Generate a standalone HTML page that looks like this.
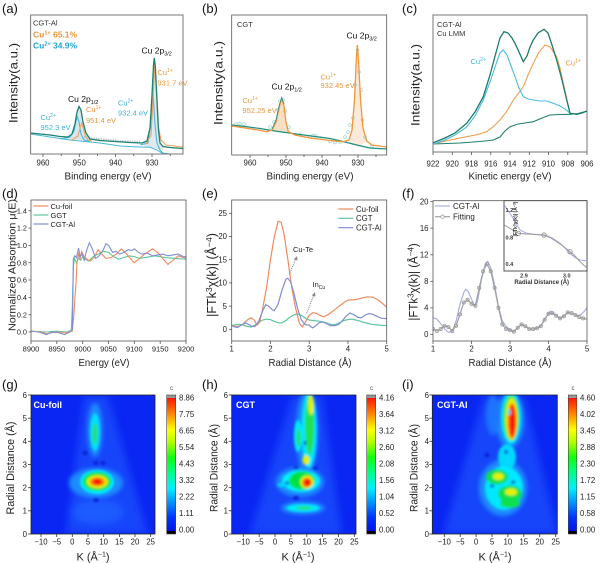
<!DOCTYPE html>
<html><head><meta charset="utf-8"><style>
html,body{margin:0;padding:0;background:#fff;}
svg{display:block;}
text{font-family:"Liberation Sans",Arial,sans-serif;}
</style></head><body>
<svg width="600" height="563" viewBox="0 0 600 563" xmlns="http://www.w3.org/2000/svg">
<defs>
<clipPath id="ca"><rect x="30.7" y="15" width="152.3" height="139"/></clipPath>
<clipPath id="cb"><rect x="231.7" y="15" width="155" height="140"/></clipPath>
<clipPath id="cc"><rect x="433" y="15" width="154" height="137"/></clipPath>
<clipPath id="cd"><rect x="31" y="200" width="155" height="141"/></clipPath>
<clipPath id="ce"><rect x="231.7" y="200" width="155" height="141"/></clipPath>
<clipPath id="cf"><rect x="433" y="200.7" width="154" height="140.3"/></clipPath>
<clipPath id="ci2"><rect x="504" y="200.7" width="83" height="70.3"/></clipPath>
<clipPath id="cg"><rect x="31" y="395" width="124" height="139"/></clipPath>
<clipPath id="ch"><rect x="231.7" y="395" width="124.3" height="139"/></clipPath>
<clipPath id="cii"><rect x="432.3" y="395" width="125" height="139"/></clipPath>
<filter id="b1" x="-50%" y="-50%" width="200%" height="200%"><feGaussianBlur stdDeviation="1.3"/></filter>
<filter id="b2" x="-50%" y="-50%" width="200%" height="200%"><feGaussianBlur stdDeviation="2.2"/></filter>
<filter id="b3" x="-50%" y="-50%" width="200%" height="200%"><feGaussianBlur stdDeviation="4"/></filter>
<linearGradient id="cmap" x1="0" y1="1" x2="0" y2="0">
<stop offset="0" stop-color="#0010e0"/><stop offset="0.12" stop-color="#0032ff"/><stop offset="0.25" stop-color="#00a8ff"/>
<stop offset="0.33" stop-color="#00f0ff"/><stop offset="0.45" stop-color="#00ff80"/><stop offset="0.55" stop-color="#10ff10"/>
<stop offset="0.66" stop-color="#b0ff00"/><stop offset="0.75" stop-color="#ffff00"/><stop offset="0.87" stop-color="#ff8000"/>
<stop offset="1" stop-color="#ff0000"/></linearGradient>
</defs>

<!-- ============ (a) ============ -->
<text x="2" y="13" font-size="13" fill="#111">(a)</text>
<g clip-path="url(#ca)">
<polygon points="66,137.5 68,137 72,134 75,124 77,112 79,106.5 81,110 83,122 86,133 90,139 90,141 66,139" fill="#c9dbe6" opacity="0.7"/>
<polygon points="144,143 147,141 150,128 152,95 153.5,65 154.3,58 155.3,66 157,100 158.5,130 160,143 163,146.5 163,150 144,146" fill="#cfdfe8" opacity="0.7"/>
<polyline points="84,137 92,138.5 100,139 110,140 120,141 130,141.5 140,142" fill="none" stroke="#c4c8cc" stroke-width="2.2" stroke-dasharray="1.4 1"/>
<polyline points="30.7,134 50,137 70,140 100,143 120,146 140,147 150,147.3 156.7,150 162,153 170,154" fill="none" stroke="#4ab8dc" stroke-width="1"/>
<polyline points="60,139 70,137 74,131 76,121 77.3,116.7 79,122 81,134 84,140 90,141.5" fill="none" stroke="#4ab8dc" stroke-width="1.1"/>
<polyline points="140,145 148,143 150.5,125 152,100 152.7,93.3 153.5,100 155,125 157,143 160,150 163,153" fill="none" stroke="#4ab8dc" stroke-width="1.1"/>
<polyline points="72,140 78,136 80,128 81.7,123.3 83,127 85,135 88,140 92,141" fill="none" stroke="#eea35a" stroke-width="1.1"/>
<polyline points="146,144 151,135 153,100 154.8,62 156.3,90 158,125 161,140 166,145 183,147" fill="none" stroke="#eea35a" stroke-width="1.1"/>
<polyline points="30.7,133 40,134 50,135 60,136.5 68,137 72,134 75,124 77,112 79,106.5 81,110 83,122 86,133 90,139 100,140.5 115,141.5 130,142.5 142,143 147,141 150,128 152,95 153.5,65 154.3,58 155.3,66 157,100 158.5,130 160,143 163,146.5 170,147.5 183,148.5" fill="none" stroke="#1d8070" stroke-width="1.3"/>
</g>
<rect x="30.7" y="15" width="152.3" height="139" fill="none" stroke="#555" stroke-width="0.8"/>
<g stroke="#555" stroke-width="0.8">
<line x1="43" y1="154" x2="43" y2="157"/><line x1="79.3" y1="154" x2="79.3" y2="157"/><line x1="115.6" y1="154" x2="115.6" y2="157"/><line x1="152" y1="154" x2="152" y2="157"/>
<line x1="61.2" y1="154" x2="61.2" y2="156"/><line x1="97.5" y1="154" x2="97.5" y2="156"/><line x1="133.8" y1="154" x2="133.8" y2="156"/><line x1="170.2" y1="154" x2="170.2" y2="156"/>
</g>
<g font-size="7.8" fill="#222" text-anchor="middle">
<text x="43" y="165.5">960</text><text x="79.3" y="165.5">950</text><text x="115.6" y="165.5">940</text><text x="152" y="165.5">930</text>
</g>
<text x="108" y="179.5" font-size="10.5" fill="#222" text-anchor="middle" textLength="87" lengthAdjust="spacingAndGlyphs">Binding energy (eV)</text>
<text transform="translate(17.3,83) rotate(-90)" font-size="12" fill="#222" text-anchor="middle" textLength="80" lengthAdjust="spacingAndGlyphs">Intensity(a.u.)</text>
<text x="33" y="25.5" font-size="7.5" fill="#333">CGT-Al</text>
<text x="33" y="37.5" font-size="8.5" font-weight="bold" fill="#e8963c">Cu<tspan font-size="5.5" dy="-3">1+</tspan><tspan dy="3"> 65.1%</tspan></text>
<text x="33" y="48.5" font-size="8.5" font-weight="bold" fill="#23a6d0">Cu<tspan font-size="5.5" dy="-3">2+</tspan><tspan dy="3"> 34.9%</tspan></text>
<text x="141.5" y="53.5" font-size="8.5" fill="#111">Cu 2p<tspan font-size="5.5" dy="2">3/2</tspan></text>
<text x="157.5" y="75" font-size="7.5" fill="#e8963c">Cu<tspan font-size="5" dy="-3">1+</tspan></text>
<text x="157.5" y="85.5" font-size="7.5" fill="#e8963c">931.7 eV</text>
<text x="68" y="102" font-size="8.5" fill="#111">Cu 2p<tspan font-size="5.5" dy="2">1/2</tspan></text>
<text x="86" y="112" font-size="7.5" fill="#e8963c">Cu<tspan font-size="5" dy="-3">1+</tspan></text>
<text x="86" y="123" font-size="7.5" fill="#e8963c">951.4 eV</text>
<text x="40.5" y="120" font-size="7.5" fill="#3ab2da">Cu<tspan font-size="5" dy="-3">2+</tspan></text>
<text x="40.5" y="130" font-size="7.5" fill="#3ab2da">952.3 eV</text>
<text x="118" y="105.5" font-size="7.5" fill="#3ab2da">Cu<tspan font-size="5" dy="-3">2+</tspan></text>
<text x="118" y="115.5" font-size="7.5" fill="#3ab2da">932.4 eV</text>

<!-- ============ (b) ============ -->
<text x="202" y="13" font-size="13" fill="#111">(b)</text>
<g clip-path="url(#cb)">
<polygon points="266.7,131.7 272,130 276,122 279,108 281.7,98.3 284,106 286,122 288.3,131.7 290,133 270,131" fill="#f5c9a0" opacity="0.6"/>
<polygon points="349,140 352,130 354.5,100 356.3,60 357.3,45 358.5,60 360.5,100 363,128 366.7,141 360,146 352,145" fill="#f8dcc0" opacity="0.6"/>
<g fill="none" stroke="#9fd3cf" stroke-width="0.7">
<circle cx="236" cy="124" r="1.4"/><circle cx="240" cy="123.5" r="1.4"/><circle cx="244" cy="124" r="1.4"/><circle cx="270" cy="127" r="1.4"/><circle cx="274" cy="122" r="1.4"/><circle cx="278" cy="110" r="1.4"/><circle cx="280" cy="101" r="1.4"/><circle cx="283" cy="100" r="1.4"/><circle cx="285" cy="111" r="1.4"/><circle cx="289" cy="127" r="1.4"/><circle cx="300" cy="135" r="1.4"/><circle cx="310" cy="137" r="1.4"/><circle cx="313" cy="135.5" r="1.4"/><circle cx="316" cy="136" r="1.4"/><circle cx="320" cy="138" r="1.4"/><circle cx="330" cy="141.5" r="1.4"/><circle cx="335" cy="142.5" r="1.4"/><circle cx="340" cy="142" r="1.4"/><circle cx="345" cy="137" r="1.4"/><circle cx="348" cy="132" r="1.4"/><circle cx="350" cy="125" r="1.4"/><circle cx="353" cy="118" r="1.4"/><circle cx="355" cy="85" r="1.4"/><circle cx="357.5" cy="50" r="1.4"/><circle cx="359" cy="72" r="1.4"/><circle cx="361" cy="90" r="1.4"/><circle cx="362.5" cy="120" r="1.4"/><circle cx="365" cy="137" r="1.4"/><circle cx="372" cy="146" r="1.4"/>
</g>
<polyline points="231.7,125 245,126.5 260,128.5 275,131 300,134.5 330,138.5 345,142 356.7,145 370,148 386.7,149" fill="none" stroke="#1d9080" stroke-width="1.2"/>
<polyline points="231.7,126 245,128 258,130 266.7,131.7 272,130 276,122 279,108 281.7,98.3 284,106 286,122 288.3,131.7 295,135 310,138 330,140.5 343.3,141.7 349,140 352,130 354.5,100 356.3,60 357.3,45 358.5,60 360.5,100 363,128 366.7,141 372,145 386.7,147" fill="none" stroke="#f0953a" stroke-width="1.3"/>
<polyline points="272,129 276,120 279,106 281.7,97.5 284,104" fill="none" stroke="#1d9080" stroke-width="0.8"/>
</g>
<rect x="231.7" y="15" width="155" height="140" fill="none" stroke="#555" stroke-width="0.8"/>
<g stroke="#555" stroke-width="0.8">
<line x1="250" y1="155" x2="250" y2="158"/><line x1="286" y1="155" x2="286" y2="158"/><line x1="322" y1="155" x2="322" y2="158"/><line x1="358" y1="155" x2="358" y2="158"/>
<line x1="268" y1="155" x2="268" y2="157"/><line x1="304" y1="155" x2="304" y2="157"/><line x1="340" y1="155" x2="340" y2="157"/><line x1="376" y1="155" x2="376" y2="157"/>
</g>
<g font-size="7.8" fill="#222" text-anchor="middle">
<text x="250" y="165.5">960</text><text x="286" y="165.5">950</text><text x="322" y="165.5">940</text><text x="358" y="165.5">930</text>
</g>
<text x="310" y="179.5" font-size="10.5" fill="#222" text-anchor="middle" textLength="87" lengthAdjust="spacingAndGlyphs">Binding energy (eV)</text>
<text transform="translate(222.6,83) rotate(-90)" font-size="12" fill="#222" text-anchor="middle" textLength="84" lengthAdjust="spacingAndGlyphs">Intensity(a.u.)</text>
<text x="237" y="27" font-size="7.5" fill="#333">CGT</text>
<text x="346.5" y="38.5" font-size="8.5" fill="#111">Cu 2p<tspan font-size="5.5" dy="2">3/2</tspan></text>
<text x="320.5" y="79.5" font-size="7.5" fill="#e8963c">Cu<tspan font-size="5" dy="-3">1+</tspan></text>
<text x="320.5" y="88" font-size="7.5" fill="#e8963c">932.45 eV</text>
<text x="271.5" y="89.5" font-size="8.5" fill="#111">Cu 2p<tspan font-size="5.5" dy="2">1/2</tspan></text>
<text x="242.5" y="103" font-size="7.5" fill="#e8963c">Cu<tspan font-size="5" dy="-3">1+</tspan></text>
<text x="242.5" y="113" font-size="7.5" fill="#e8963c">952.25 eV</text>

<!-- ============ (c) ============ -->
<text x="402" y="13" font-size="13" fill="#111">(c)</text>
<g clip-path="url(#cc)" fill="none">
<polyline points="433.3,144 460,143 480,141.5 493.3,140 500,137 505,131 510,126.7 518,124 525,123 533.3,121.7 542,118 550,115 560,114.5 570,114.3 578,113.5 587.3,111" stroke="#1f8070" stroke-width="1.1"/>
<polyline points="433.3,144 450,140 466.7,136.7 478,134.5 486.7,131.7 493,127 500,120 507,111 513.3,100 518,94 523.3,86.7 528,75 533.3,63.3 539,52 545,45 550,47 556.7,56.7 560,68 563.3,83.3 567,100 570,113.3" stroke="#eea050" stroke-width="1.1"/>
<polyline points="433.3,144 445,140 455,135 466.7,127 475,116 483.3,100 490,82 496.7,62 500,53 503.3,50 507,55 511,66 515,76.7 519,88 523.3,96.7 528,99 533.3,100 540,101 547,101 553.3,103.3 560,106 565,109 570,113.3" stroke="#4bbde0" stroke-width="1.1"/>
<polyline points="433.3,142.7 445,138 455,133 466.7,123.3 475,112 483.3,96.7 490,75 496.7,50 500,38 504,31.7 508,33 512,38 515,43.3 519,52 523.3,61.7 527,56 530,47 533.3,40 538,33 544,29.3 548,33 552,45 556.7,60 562,80 566,97 570,113.3 576.7,114.3 582,113 587.3,111" stroke="#1d7a6c" stroke-width="1.3"/>
</g>
<rect x="433" y="15" width="154" height="137" fill="none" stroke="#555" stroke-width="0.8"/>
<g stroke="#555" stroke-width="0.8">
<line x1="433" y1="152" x2="433" y2="155"/><line x1="452.3" y1="152" x2="452.3" y2="155"/><line x1="471.5" y1="152" x2="471.5" y2="155"/><line x1="490.8" y1="152" x2="490.8" y2="155"/><line x1="510" y1="152" x2="510" y2="155"/><line x1="529.3" y1="152" x2="529.3" y2="155"/><line x1="548.5" y1="152" x2="548.5" y2="155"/><line x1="567.8" y1="152" x2="567.8" y2="155"/><line x1="587" y1="152" x2="587" y2="155"/>
</g>
<g font-size="7.8" fill="#222" text-anchor="middle">
<text x="433" y="166.5">922</text><text x="452.3" y="166.5">920</text><text x="471.5" y="166.5">918</text><text x="490.8" y="166.5">916</text><text x="510" y="166.5">914</text><text x="529.3" y="166.5">912</text><text x="548.5" y="166.5">910</text><text x="567.8" y="166.5">908</text><text x="587" y="166.5">906</text>
</g>
<text x="510" y="179.5" font-size="10.5" fill="#222" text-anchor="middle" textLength="83" lengthAdjust="spacingAndGlyphs">Kinetic energy (eV)</text>
<text transform="translate(419.3,85) rotate(-90)" font-size="12" fill="#222" text-anchor="middle" textLength="82" lengthAdjust="spacingAndGlyphs">Intensity(a.u.)</text>
<text x="437" y="27" font-size="7.5" fill="#333">CGT-Al</text>
<text x="437" y="36" font-size="7.5" fill="#333">Cu LMM</text>
<text x="470.5" y="64" font-size="7.5" fill="#3ab2da">Cu<tspan font-size="5" dy="-3">2+</tspan></text>
<text x="565.5" y="65.5" font-size="7.5" fill="#e8963c">Cu<tspan font-size="5" dy="-3">1+</tspan></text>

<!-- ============ (d) ============ -->
<text x="2" y="198" font-size="13" fill="#111">(d)</text>
<g clip-path="url(#cd)">
<g transform="translate(31,332) scale(0.5167,-86.6)" fill="none" stroke-width="1.1">
<polyline vector-effect="non-scaling-stroke" stroke="#5cc79c" points="0,0.01 30,0 50,0.01 70,0 78,0.02 80,0.3 82,0.75 84,0.85 88,0.8 92,0.85 96,0.83 100,0.87 105,0.84 112,0.82 120,0.87 130,0.9 140,0.93 150,0.92 160,0.87 170,0.84 180,0.86 190,0.88 200,0.87 210,0.85 220,0.86 240,0.88 260,0.86 280,0.85 300,0.84"/>
<polyline vector-effect="non-scaling-stroke" stroke="#f08a5e" points="0,0.01 20,0 30,-0.02 50,0 65,-0.01 80,0.01 83,0.2 85,0.4 87,0.55 89,0.8 92,0.9 95,0.85 98,0.93 102,0.88 108,0.84 115,0.82 122,0.86 130,0.95 137,0.9 145,0.85 155,0.86 165,0.9 175,0.96 185,0.9 195,0.83 200,0.8 210,0.85 220,0.9 235,0.96 245,0.92 255,0.85 265,0.78 275,0.83 285,0.88 295,0.86 300,0.85"/>
<polyline vector-effect="non-scaling-stroke" stroke="#8090d2" points="0,0.01 15,0 30,-0.03 40,0 55,-0.01 65,-0.03 75,0 80,0.03 81,0.4 82,0.85 85,0.88 88,0.86 92,0.97 95,0.87 99,0.9 103,0.83 108,0.95 113,1.03 118,0.97 125,0.85 132,0.88 140,0.95 145,1.02 150,1 158,0.92 165,0.93 172,0.9 180,0.92 188,0.95 195,0.94 200,0.96 208,0.92 215,0.9 225,0.91 235,0.88 245,0.89 255,0.9 265,0.88 275,0.89 285,0.9 295,0.87 300,0.87"/>
</g>
</g>
<rect x="31" y="200" width="155" height="141" fill="none" stroke="#555" stroke-width="0.8"/>
<g stroke="#555" stroke-width="0.8">
<line x1="31" y1="341" x2="31" y2="344"/><line x1="56.8" y1="341" x2="56.8" y2="344"/><line x1="82.7" y1="341" x2="82.7" y2="344"/><line x1="108.5" y1="341" x2="108.5" y2="344"/><line x1="134.3" y1="341" x2="134.3" y2="344"/><line x1="160.2" y1="341" x2="160.2" y2="344"/><line x1="186" y1="341" x2="186" y2="344"/>
<line x1="28.5" y1="332" x2="31" y2="332"/><line x1="28.5" y1="314.7" x2="31" y2="314.7"/><line x1="28.5" y1="297.4" x2="31" y2="297.4"/><line x1="28.5" y1="280" x2="31" y2="280"/><line x1="28.5" y1="262.7" x2="31" y2="262.7"/><line x1="28.5" y1="245.4" x2="31" y2="245.4"/><line x1="28.5" y1="228.1" x2="31" y2="228.1"/><line x1="28.5" y1="210.8" x2="31" y2="210.8"/>
</g>
<g font-size="7.5" fill="#222" text-anchor="middle">
<text x="31" y="351.5">8900</text><text x="56.8" y="351.5">8950</text><text x="82.7" y="351.5">9000</text><text x="108.5" y="351.5">9050</text><text x="134.3" y="351.5">9100</text><text x="160.2" y="351.5">9150</text><text x="186" y="351.5">9200</text>
</g>
<g font-size="7.3" fill="#222" text-anchor="end">
<text x="27" y="334.6">0.0</text><text x="27" y="317.3">0.2</text><text x="27" y="300">0.4</text><text x="27" y="282.6">0.6</text><text x="27" y="265.3">0.8</text><text x="27" y="248">1.0</text><text x="27" y="230.7">1.2</text><text x="27" y="213.4">1.4</text>
</g>
<text x="104" y="366" font-size="10.5" fill="#222" text-anchor="middle" textLength="51" lengthAdjust="spacingAndGlyphs">Energy (eV)</text>
<text transform="translate(15.6,265) rotate(-90)" font-size="10.5" fill="#222" text-anchor="middle" textLength="132" lengthAdjust="spacingAndGlyphs">Normalized Absorption μ(E)</text>
<line x1="33.5" y1="206" x2="48.5" y2="206" stroke="#f08a5e" stroke-width="1.2"/>
<line x1="33.5" y1="215" x2="48.5" y2="215" stroke="#5cc79c" stroke-width="1.2"/>
<line x1="33.5" y1="224" x2="48.5" y2="224" stroke="#8090d2" stroke-width="1.2"/>
<g font-size="7.5" fill="#222"><text x="50.5" y="208.8">Cu-foil</text><text x="50.5" y="217.8">GGT</text><text x="50.5" y="226.8">CGT-Al</text></g>

<!-- ============ (e) ============ -->
<text x="202" y="198" font-size="13" fill="#111">(e)</text>
<g clip-path="url(#ce)">
<g transform="translate(192.95,329.3) scale(38.75,-4.64)" fill="none" stroke-width="1.2">
<polyline vector-effect="non-scaling-stroke" stroke="#5cc79c" points="1,0.8 1.1,1 1.2,1.1 1.3,0.9 1.4,0.6 1.5,0.5 1.6,0.9 1.7,1.5 1.8,2 1.9,2.2 2,2.1 2.1,1.7 2.2,1.4 2.3,1.4 2.4,1.9 2.5,2.6 2.6,3.1 2.7,3.3 2.8,3 2.9,2.4 3,2 3.1,1.9 3.2,1.8 3.3,1.7 3.4,1.5 3.5,1.2 3.6,1 3.7,1.1 3.8,1.5 3.9,1.9 4,2.1 4.1,2.2 4.2,2 4.3,1.8 4.4,1.5 4.5,1.3 4.6,1.1 4.7,1 4.8,0.9 5,0.8"/>
<polyline vector-effect="non-scaling-stroke" stroke="#f08a5e" points="1,0.8 1.1,0.6 1.2,0.7 1.3,1.2 1.4,2 1.5,2.5 1.58,2 1.65,0.9 1.72,1.5 1.8,4.5 1.9,9 2,15 2.1,20 2.2,23.3 2.28,23 2.35,20.5 2.45,15 2.55,9 2.65,4.5 2.75,1.3 2.82,0.5 2.9,1.5 3,3 3.1,3.6 3.2,3.4 3.3,2.9 3.38,2.7 3.5,3.2 3.7,4.5 3.9,5.8 4,6.3 4.2,6.4 4.35,6.7 4.5,7 4.65,6.9 4.8,6.2 4.9,5.5 5,4.8"/>
<polyline vector-effect="non-scaling-stroke" stroke="#8090d2" points="1,0.8 1.08,0.5 1.15,0.4 1.25,0.9 1.35,1.4 1.45,1 1.52,0.6 1.6,0.6 1.7,1.8 1.8,4 1.88,5.3 1.95,5 2.05,4.2 2.1,4 2.2,5.5 2.3,8.5 2.4,10.8 2.45,11 2.52,10.2 2.6,8 2.7,4.5 2.8,2 2.9,1 3,0.9 3.08,0.3 3.15,0.6 3.25,1.4 3.35,1.6 3.45,1.2 3.55,0.8 3.65,0.8 3.75,1 3.85,1.8 3.95,2.8 4.05,3.5 4.15,3.2 4.25,2.6 4.35,2.5 4.45,3.1 4.55,3.4 4.65,3.2 4.75,2.8 4.85,2.4 5,2.3"/>
</g>
</g>
<rect x="231.7" y="200" width="155" height="141" fill="none" stroke="#555" stroke-width="0.8"/>
<g stroke="#555" stroke-width="0.8">
<line x1="231.7" y1="341" x2="231.7" y2="344"/><line x1="270.45" y1="341" x2="270.45" y2="344"/><line x1="309.2" y1="341" x2="309.2" y2="344"/><line x1="347.95" y1="341" x2="347.95" y2="344"/><line x1="386.7" y1="341" x2="386.7" y2="344"/>
<line x1="229" y1="329.3" x2="231.7" y2="329.3"/><line x1="229" y1="306.1" x2="231.7" y2="306.1"/><line x1="229" y1="282.9" x2="231.7" y2="282.9"/><line x1="229" y1="259.7" x2="231.7" y2="259.7"/><line x1="229" y1="236.5" x2="231.7" y2="236.5"/><line x1="229" y1="213.3" x2="231.7" y2="213.3"/>
</g>
<g font-size="7.8" fill="#222" text-anchor="middle">
<text x="231.7" y="351.5">1</text><text x="270.45" y="351.5">2</text><text x="309.2" y="351.5">3</text><text x="347.95" y="351.5">4</text><text x="386.7" y="351.5">5</text>
</g>
<g font-size="7.8" fill="#222" text-anchor="end">
<text x="227" y="332">0</text><text x="227" y="308.8">5</text><text x="227" y="285.6">10</text><text x="227" y="262.4">15</text><text x="227" y="239.2">20</text><text x="227" y="216">25</text>
</g>
<text x="310" y="366" font-size="10.5" fill="#222" text-anchor="middle" textLength="83" lengthAdjust="spacingAndGlyphs">Radial Distance (Å)</text>
<text transform="translate(216,275) rotate(-90)" font-size="12.5" fill="#222" text-anchor="middle">|FTk<tspan font-size="8.5" dy="-4">3</tspan><tspan dy="4">χ(k)| (Å</tspan><tspan font-size="8.5" dy="-4">−4</tspan><tspan dy="4">)</tspan></text>
<line x1="338.3" y1="209" x2="353.3" y2="209" stroke="#f08a5e" stroke-width="1.2"/>
<line x1="338.3" y1="218.3" x2="353.3" y2="218.3" stroke="#5cc79c" stroke-width="1.2"/>
<line x1="338.3" y1="227.7" x2="353.3" y2="227.7" stroke="#8090d2" stroke-width="1.2"/>
<g font-size="7.8" fill="#222"><text x="356" y="211.8">Cu-foil</text><text x="356" y="221.1">CGT</text><text x="356" y="230.5">CGT-Al</text></g>
<text x="293" y="252" font-size="7.5" fill="#222">Cu-Te</text>
<line x1="289.3" y1="274.3" x2="295.8" y2="259" stroke="#888" stroke-width="1.1" stroke-dasharray="1 1"/>
<polygon points="297,256 293.8,259.5 297.5,260.5" fill="#888"/>
<text x="312.5" y="287" font-size="7.5" fill="#222">In<tspan font-size="5" dy="2">Cu</tspan></text>
<line x1="306.7" y1="313.3" x2="313.8" y2="295" stroke="#888" stroke-width="1.1" stroke-dasharray="1 1"/>
<polygon points="315,292 311.8,295.5 315.5,296.5" fill="#888"/>

<!-- ============ (f) ============ -->
<text x="402" y="198" font-size="13" fill="#111">(f)</text>
<g clip-path="url(#cf)">
<g transform="translate(394.5,334.3) scale(38.5,-6.63)" fill="none">
<polyline vector-effect="non-scaling-stroke" stroke="#aab0e2" stroke-width="1.2" points="1,2.5 1.1,2.3 1.2,1.6 1.3,0.8 1.4,0.3 1.5,0.5 1.6,2 1.7,4.5 1.8,6.3 1.85,6.8 1.92,6.4 2,5.3 2.08,4.3 2.15,4.8 2.25,8 2.35,10.5 2.42,11 2.5,10 2.6,7.5 2.7,4.2 2.8,2 2.9,1.2 3,0.7 3.1,0.4 3.2,1 3.3,1.5 3.4,1.2 3.5,0.8 3.6,0.8 3.7,1 3.8,1.3 3.9,2.3 4,3.2 4.05,3.5 4.15,3.1 4.3,2.4 4.4,2.8 4.5,3.3 4.6,3.2 4.75,2.8 4.85,3 4.95,3.6 5,4"/>
</g>
<polyline fill="none" stroke="#a0a0a0" stroke-width="1.2" points="433,329 436.85,331 440.7,329 444.55,325.7 448.4,327 452.25,331 456.1,325.7 459.95,314.4 463.8,302.5 467.65,299.8 471.5,303.8 475.35,305.8 479.2,287.9 483.05,271.3 486.9,264 490.75,271.3 494.6,287.9 498.45,307.8 502.3,324.4 506.15,329 510,330.3 513.85,331.6 517.7,327.7 521.55,324.4 525.4,326.3 529.25,329 533.1,329 536.95,328.3 540.8,326.3 544.65,319.7 548.5,313.7 552.35,313.1 556.2,315.7 560.05,318.4 563.9,316.4 567.75,312.4 571.6,313.1 575.45,315.1 579.3,317.1 583.15,318.4 587,319.1"/>
<g fill="none" stroke="#999" stroke-width="0.8">
<circle cx="433" cy="329" r="1.6"/><circle cx="436.85" cy="331" r="1.6"/><circle cx="440.7" cy="329" r="1.6"/><circle cx="444.55" cy="325.7" r="1.6"/><circle cx="448.4" cy="327" r="1.6"/><circle cx="452.25" cy="331" r="1.6"/><circle cx="456.1" cy="325.7" r="1.6"/><circle cx="459.95" cy="314.4" r="1.6"/><circle cx="463.8" cy="302.5" r="1.6"/><circle cx="467.65" cy="299.8" r="1.6"/><circle cx="471.5" cy="303.8" r="1.6"/><circle cx="475.35" cy="305.8" r="1.6"/><circle cx="479.2" cy="287.9" r="1.6"/><circle cx="483.05" cy="271.3" r="1.6"/><circle cx="486.9" cy="264" r="1.6"/><circle cx="490.75" cy="271.3" r="1.6"/><circle cx="494.6" cy="287.9" r="1.6"/><circle cx="498.45" cy="307.8" r="1.6"/><circle cx="502.3" cy="324.4" r="1.6"/><circle cx="506.15" cy="329" r="1.6"/><circle cx="510" cy="330.3" r="1.6"/><circle cx="513.85" cy="331.6" r="1.6"/><circle cx="517.7" cy="327.7" r="1.6"/><circle cx="521.55" cy="324.4" r="1.6"/><circle cx="525.4" cy="326.3" r="1.6"/><circle cx="529.25" cy="329" r="1.6"/><circle cx="533.1" cy="329" r="1.6"/><circle cx="536.95" cy="328.3" r="1.6"/><circle cx="540.8" cy="326.3" r="1.6"/><circle cx="544.65" cy="319.7" r="1.6"/><circle cx="548.5" cy="313.7" r="1.6"/><circle cx="552.35" cy="313.1" r="1.6"/><circle cx="556.2" cy="315.7" r="1.6"/><circle cx="560.05" cy="318.4" r="1.6"/><circle cx="563.9" cy="316.4" r="1.6"/><circle cx="567.75" cy="312.4" r="1.6"/><circle cx="571.6" cy="313.1" r="1.6"/><circle cx="575.45" cy="315.1" r="1.6"/><circle cx="579.3" cy="317.1" r="1.6"/><circle cx="583.15" cy="318.4" r="1.6"/>
</g>
</g>
<rect x="433" y="200.7" width="154" height="140.3" fill="none" stroke="#555" stroke-width="0.8"/>
<g stroke="#555" stroke-width="0.8">
<line x1="433" y1="341" x2="433" y2="344"/><line x1="471.5" y1="341" x2="471.5" y2="344"/><line x1="510" y1="341" x2="510" y2="344"/><line x1="548.5" y1="341" x2="548.5" y2="344"/><line x1="587" y1="341" x2="587" y2="344"/>
<line x1="430.3" y1="334.3" x2="433" y2="334.3"/><line x1="430.3" y1="307.8" x2="433" y2="307.8"/><line x1="430.3" y1="281.3" x2="433" y2="281.3"/><line x1="430.3" y1="254.8" x2="433" y2="254.8"/><line x1="430.3" y1="228.2" x2="433" y2="228.2"/><line x1="430.3" y1="201.7" x2="433" y2="201.7"/>
</g>
<g font-size="7.8" fill="#222" text-anchor="middle">
<text x="433" y="351.5">1</text><text x="471.5" y="351.5">2</text><text x="510" y="351.5">3</text><text x="548.5" y="351.5">4</text><text x="587" y="351.5">5</text>
</g>
<g font-size="7.8" fill="#222" text-anchor="end">
<text x="428.5" y="337">0</text><text x="428.5" y="310.5">4</text><text x="428.5" y="284">8</text><text x="428.5" y="257.5">12</text><text x="428.5" y="230.9">16</text><text x="428.5" y="204.4">20</text>
</g>
<text x="510" y="366" font-size="10.5" fill="#222" text-anchor="middle" textLength="83" lengthAdjust="spacingAndGlyphs">Radial Distance (Å)</text>
<text transform="translate(417.5,282) rotate(-90)" font-size="11.5" fill="#222" text-anchor="middle">|FTk<tspan font-size="8" dy="-4">3</tspan><tspan dy="4">χ(k)| (Å</tspan><tspan font-size="8" dy="-4">−4</tspan><tspan dy="4">)</tspan></text>
<line x1="435" y1="206" x2="450" y2="206" stroke="#aab0e2" stroke-width="1.2"/>
<line x1="435" y1="216.7" x2="450" y2="216.7" stroke="#a0a0a0" stroke-width="1.2"/>
<circle cx="442.5" cy="216.7" r="1.7" fill="#fff" stroke="#999" stroke-width="0.8"/>
<g font-size="8" fill="#222"><text x="453" y="208.9">CGT-Al</text><text x="453" y="219.6">Fitting</text></g>
<!-- inset -->
<rect x="504" y="200.7" width="83" height="70.3" fill="#fff" stroke="#444" stroke-width="0.9"/>
<g clip-path="url(#ci2)" fill="none">
<polyline stroke="#aab0e2" stroke-width="1.1" points="504.3,205 509,212 513.3,218.3 517,225 520,230 526,233 533.3,234.3 540,235 546.7,235.7 553,238.5 560,243.3 565,248 570,253.3 575,257.5 580,260 587.3,261"/>
<polyline stroke="#999" stroke-width="1" points="504.3,225 511,229 518.3,233.3 526,234 533.3,234.3 544,235 550,237.5 556.7,241.7 563,246 570,251.7 575,256 580,261.7 587.3,268.3"/>
<circle cx="518.3" cy="233.3" r="2.2" stroke="#888" stroke-width="0.8"/>
<circle cx="544" cy="235" r="2.2" stroke="#888" stroke-width="0.8"/>
<circle cx="570" cy="251.7" r="2.2" stroke="#888" stroke-width="0.8"/>
</g>
<g font-size="5.5" font-weight="bold" fill="#333">
<text x="505.5" y="212">1.2</text><text x="505.5" y="239.5">0.8</text><text x="505.5" y="266">0.4</text>
<text x="524" y="277.5" text-anchor="middle">2.9</text><text x="566.7" y="277.5" text-anchor="middle">3.0</text>
<text x="541.7" y="284" text-anchor="middle" font-size="6">Radial Distance (Å)</text>
</g>
<text transform="translate(517,219) rotate(-90)" font-size="5" font-weight="bold" fill="#333" text-anchor="middle">|FTk<tspan font-size="3.5" dy="-1.5">3</tspan><tspan dy="1.5">χ(k)| (Å</tspan><tspan font-size="3.5" dy="-1.5">−3</tspan><tspan dy="1.5">)</tspan></text>

<!-- ============ (g) ============ -->
<text x="2" y="389" font-size="13" fill="#111">(g)</text>
<g clip-path="url(#cg)">
<rect x="31" y="395" width="124" height="139" fill="#0a26f2"/>
<g filter="url(#b3)">
<polygon points="84,396 108,396 148,534 66,534" fill="#1744fa"/>
<ellipse cx="98" cy="512" rx="26" ry="12" fill="#1f5cff"/>
</g>
<g filter="url(#b2)">
<ellipse cx="95" cy="430" rx="7.5" ry="27" fill="#1c8cff"/>
<ellipse cx="96" cy="483" rx="27" ry="15" fill="#1c8cff"/>
</g>
<g filter="url(#b1)">
<ellipse cx="95" cy="432" rx="5" ry="19" fill="#00e0ff"/>
<ellipse cx="95" cy="434" rx="2.5" ry="11" fill="#20e070"/>
<ellipse cx="97" cy="482" rx="17" ry="12" fill="#00f0ff"/>
<ellipse cx="97" cy="481.5" rx="14" ry="9.5" fill="#00e040"/>
<ellipse cx="97.3" cy="481.7" rx="10.5" ry="6.5" fill="#e8f000"/>
<ellipse cx="97.3" cy="481.7" rx="7.5" ry="4.5" fill="#ff8000"/>
<ellipse cx="97.3" cy="481.7" rx="4.5" ry="3" fill="#ff1000"/>
<ellipse cx="85" cy="453" rx="2" ry="1.5" fill="#0010c0"/><ellipse cx="96" cy="463" rx="2" ry="1.5" fill="#0010c0"/><ellipse cx="103" cy="463" rx="2" ry="1.5" fill="#0010c0"/><ellipse cx="96" cy="500" rx="2.5" ry="1.5" fill="#0010c0"/>
</g>
</g>
<rect x="31" y="395" width="124" height="139" fill="none" stroke="#222" stroke-width="0.8"/>
<text x="33.5" y="408" font-size="9" font-weight="bold" fill="#fff">Cu-foil</text>
<rect x="166.7" y="395" width="9" height="139" fill="url(#cmap)"/>
<rect x="166.7" y="395" width="9" height="3" fill="#999"/>
<rect x="166.7" y="531" width="9" height="3" fill="#000"/>
<rect x="166.7" y="395" width="9" height="139" fill="none" stroke="#444" stroke-width="0.6"/>
<text x="170" y="390" font-size="6" fill="#444">c</text>
<g font-size="7.8" fill="#222">
<text x="179" y="400.5">8.86</text><text x="179" y="417">7.75</text><text x="179" y="433.5">6.65</text><text x="179" y="450">5.54</text><text x="179" y="466.5">4.43</text><text x="179" y="483">3.32</text><text x="179" y="499.5">2.22</text><text x="179" y="516">1.11</text><text x="179" y="532.5">0.00</text>
</g>
<g stroke="#333" stroke-width="0.8">
<line x1="41" y1="534" x2="41" y2="537"/><line x1="56.7" y1="534" x2="56.7" y2="537"/><line x1="72.3" y1="534" x2="72.3" y2="537"/><line x1="88" y1="534" x2="88" y2="537"/><line x1="103.7" y1="534" x2="103.7" y2="537"/><line x1="119.4" y1="534" x2="119.4" y2="537"/><line x1="135" y1="534" x2="135" y2="537"/><line x1="150.7" y1="534" x2="150.7" y2="537"/>
<line x1="28" y1="534" x2="31" y2="534"/><line x1="28" y1="510.8" x2="31" y2="510.8"/><line x1="28" y1="487.7" x2="31" y2="487.7"/><line x1="28" y1="464.5" x2="31" y2="464.5"/><line x1="28" y1="441.3" x2="31" y2="441.3"/><line x1="28" y1="418.2" x2="31" y2="418.2"/><line x1="28" y1="395" x2="31" y2="395"/>
</g>
<g font-size="7.8" fill="#222" text-anchor="middle">
<text x="41" y="544.5">−10</text><text x="56.7" y="544.5">−5</text><text x="72.3" y="544.5">0</text><text x="88" y="544.5">5</text><text x="103.7" y="544.5">10</text><text x="119.4" y="544.5">15</text><text x="135" y="544.5">20</text><text x="150.7" y="544.5">25</text>
</g>
<g font-size="7.8" fill="#222" text-anchor="end">
<text x="27" y="536.8">0</text><text x="27" y="513.6">1</text><text x="27" y="490.5">2</text><text x="27" y="467.3">3</text><text x="27" y="444.1">4</text><text x="27" y="421">5</text><text x="27" y="397.8">6</text>
</g>
<text x="93" y="560.5" font-size="11" fill="#222" text-anchor="middle">K (Å<tspan font-size="7" dy="-4">−1</tspan><tspan dy="4">)</tspan></text>
<text transform="translate(14,468) rotate(-90)" font-size="11" fill="#222" text-anchor="middle" textLength="93" lengthAdjust="spacingAndGlyphs">Radial Distance (Å)</text>

<!-- ============ (h) ============ -->
<text x="202" y="389" font-size="13" fill="#111">(h)</text>
<g clip-path="url(#ch)">
<rect x="231.7" y="395" width="124.3" height="139" fill="#0a26f2"/>
<g filter="url(#b3)">
<polygon points="292,396 322,396 342,534 250,534" fill="#1744fa"/>
</g>
<g filter="url(#b2)">
<ellipse cx="307" cy="432" rx="11" ry="42" fill="#1c8cff"/>
<ellipse cx="300" cy="482" rx="24" ry="15" fill="#1c8cff"/>
<ellipse cx="303" cy="508" rx="22" ry="6.5" fill="#1c8cff"/>
</g>
<g filter="url(#b1)">
<ellipse cx="309" cy="430" rx="7.5" ry="38" fill="#00e8ff"/>
<ellipse cx="298" cy="436" rx="4" ry="16" fill="#00e8ff"/>
<ellipse cx="309.5" cy="425" rx="4.5" ry="30" fill="#20e050"/>
<ellipse cx="298.5" cy="438" rx="2" ry="9" fill="#20e050"/>
<ellipse cx="311" cy="405" rx="2.8" ry="10" fill="#e0f000"/>
<ellipse cx="306" cy="460" rx="3.5" ry="5" fill="#e0f000"/>
<ellipse cx="301" cy="481" rx="19" ry="11" fill="#00f0ff"/>
<ellipse cx="302" cy="480.5" rx="13" ry="9" fill="#00e040"/>
<ellipse cx="307" cy="482" rx="6.5" ry="6.5" fill="#e8f000"/>
<ellipse cx="307" cy="482.5" rx="4.5" ry="4.8" fill="#ff6000"/>
<ellipse cx="307.3" cy="482.5" rx="3" ry="3.5" fill="#ff1000"/>
<ellipse cx="303" cy="508" rx="17" ry="4" fill="#00e8ff"/>
<ellipse cx="304" cy="508" rx="8" ry="1.8" fill="#20e070"/>
<ellipse cx="282" cy="485" rx="5" ry="2" fill="#00d8ff"/>
<ellipse cx="287" cy="483" rx="2" ry="1.5" fill="#0010c0"/><ellipse cx="296" cy="468" rx="2" ry="1.5" fill="#0010c0"/><ellipse cx="315" cy="468" rx="2" ry="1.5" fill="#0010c0"/><ellipse cx="296" cy="498" rx="3" ry="1.5" fill="#0010c0"/><ellipse cx="305" cy="443" rx="1.5" ry="2" fill="#0010c0"/>
</g>
</g>
<rect x="231.7" y="395" width="124.3" height="139" fill="none" stroke="#222" stroke-width="0.8"/>
<text x="236" y="408" font-size="9" font-weight="bold" fill="#fff">CGT</text>
<rect x="366.7" y="395" width="9" height="139" fill="url(#cmap)"/>
<rect x="366.7" y="395" width="9" height="3" fill="#999"/>
<rect x="366.7" y="531" width="9" height="3" fill="#000"/>
<rect x="366.7" y="395" width="9" height="139" fill="none" stroke="#444" stroke-width="0.6"/>
<text x="370" y="390" font-size="6" fill="#444">c</text>
<g font-size="7.8" fill="#222">
<text x="379" y="400.5">4.16</text><text x="379" y="417">3.64</text><text x="379" y="433.5">3.12</text><text x="379" y="450">2.60</text><text x="379" y="466.5">2.08</text><text x="379" y="483">1.56</text><text x="379" y="499.5">1.04</text><text x="379" y="516">0.52</text><text x="379" y="532.5">0.00</text>
</g>
<g stroke="#333" stroke-width="0.8">
<line x1="243.3" y1="534" x2="243.3" y2="537"/><line x1="259.2" y1="534" x2="259.2" y2="537"/><line x1="275" y1="534" x2="275" y2="537"/><line x1="290.9" y1="534" x2="290.9" y2="537"/><line x1="306.8" y1="534" x2="306.8" y2="537"/><line x1="322.6" y1="534" x2="322.6" y2="537"/><line x1="338.5" y1="534" x2="338.5" y2="537"/><line x1="354.3" y1="534" x2="354.3" y2="537"/>
<line x1="228.7" y1="534" x2="231.7" y2="534"/><line x1="228.7" y1="510.8" x2="231.7" y2="510.8"/><line x1="228.7" y1="487.7" x2="231.7" y2="487.7"/><line x1="228.7" y1="464.5" x2="231.7" y2="464.5"/><line x1="228.7" y1="441.3" x2="231.7" y2="441.3"/><line x1="228.7" y1="418.2" x2="231.7" y2="418.2"/><line x1="228.7" y1="395" x2="231.7" y2="395"/>
</g>
<g font-size="7.8" fill="#222" text-anchor="middle">
<text x="243.3" y="544.5">−10</text><text x="259.2" y="544.5">−5</text><text x="275" y="544.5">0</text><text x="290.9" y="544.5">5</text><text x="306.8" y="544.5">10</text><text x="322.6" y="544.5">15</text><text x="338.5" y="544.5">20</text><text x="354.3" y="544.5">25</text>
</g>
<g font-size="7.8" fill="#222" text-anchor="end">
<text x="228" y="536.8">0</text><text x="228" y="513.6">1</text><text x="228" y="490.5">2</text><text x="228" y="467.3">3</text><text x="228" y="444.1">4</text><text x="228" y="421">5</text><text x="228" y="397.8">6</text>
</g>
<text x="298" y="560.5" font-size="11" fill="#222" text-anchor="middle">K (Å<tspan font-size="7" dy="-4">−1</tspan><tspan dy="4">)</tspan></text>
<text transform="translate(217.3,468) rotate(-90)" font-size="11" fill="#222" text-anchor="middle" textLength="88" lengthAdjust="spacingAndGlyphs">Radial Distance (Å)</text>

<!-- ============ (i) ============ -->
<text x="402" y="389" font-size="13" fill="#111">(i)</text>
<g clip-path="url(#cii)">
<rect x="432.3" y="395" width="125" height="139" fill="#0a26f2"/>
<g filter="url(#b3)">
<polygon points="484,396 524,396 558,534 443,534" fill="#1744fa"/>
</g>
<g filter="url(#b2)">
<ellipse cx="503" cy="488" rx="24" ry="28" fill="#1c8cff"/>
<ellipse cx="510" cy="420" rx="14" ry="28" fill="#1c8cff"/>
<ellipse cx="493" cy="415" rx="7" ry="20" fill="#1f74ff"/>
</g>
<g filter="url(#b1)">
<ellipse cx="507" cy="457" rx="9" ry="13" fill="#00d8ff"/>
<ellipse cx="504" cy="488" rx="19" ry="22" fill="#00e8ff"/>
<ellipse cx="511" cy="418" rx="10" ry="26" fill="#00e8ff"/>
<ellipse cx="511" cy="418" rx="8" ry="23" fill="#20e050"/>
<ellipse cx="511.5" cy="419" rx="6" ry="21" fill="#e8f000"/>
<ellipse cx="512" cy="421" rx="4.5" ry="18" fill="#ff8000"/>
<ellipse cx="512.3" cy="421" rx="3" ry="16" fill="#ff1800"/>
<ellipse cx="509.3" cy="412.3" rx="1.6" ry="3" fill="#00d0ff"/>
<ellipse cx="497" cy="477" rx="11" ry="7.5" fill="#10e050"/>
<ellipse cx="498.3" cy="476.5" rx="5.5" ry="3.5" fill="#e8f000"/>
<ellipse cx="510" cy="494" rx="12" ry="8.5" fill="#10e050"/>
<ellipse cx="510" cy="503" rx="10" ry="5" fill="#10e050"/>
<ellipse cx="511" cy="492" rx="6" ry="3.5" fill="#e8f000"/>
<ellipse cx="487" cy="455" rx="2" ry="1.6" fill="#0010c0"/><ellipse cx="492" cy="486" rx="2" ry="1.5" fill="#0010c0"/><ellipse cx="513" cy="482" rx="2" ry="1.5" fill="#0010c0"/><ellipse cx="506" cy="452" rx="1.5" ry="2" fill="#0010c0"/>
</g>
</g>
<rect x="432.3" y="395" width="125" height="139" fill="none" stroke="#222" stroke-width="0.8"/>
<text x="437" y="408" font-size="9" font-weight="bold" fill="#fff">CGT-Al</text>
<rect x="568.3" y="395" width="8.5" height="139" fill="url(#cmap)"/>
<rect x="568.3" y="395" width="8.5" height="3" fill="#999"/>
<rect x="568.3" y="531" width="8.5" height="3" fill="#000"/>
<rect x="568.3" y="395" width="8.5" height="139" fill="none" stroke="#444" stroke-width="0.6"/>
<text x="571.5" y="390" font-size="6" fill="#444">c</text>
<g font-size="7.8" fill="#222">
<text x="580" y="400.5">4.60</text><text x="580" y="417">4.02</text><text x="580" y="433.5">3.45</text><text x="580" y="450">2.88</text><text x="580" y="466.5">2.30</text><text x="580" y="483">1.72</text><text x="580" y="499.5">1.15</text><text x="580" y="516">0.58</text><text x="580" y="532.5">0.00</text>
</g>
<g stroke="#333" stroke-width="0.8">
<line x1="444.3" y1="534" x2="444.3" y2="537"/><line x1="460.2" y1="534" x2="460.2" y2="537"/><line x1="476.1" y1="534" x2="476.1" y2="537"/><line x1="492" y1="534" x2="492" y2="537"/><line x1="507.9" y1="534" x2="507.9" y2="537"/><line x1="523.8" y1="534" x2="523.8" y2="537"/><line x1="539.7" y1="534" x2="539.7" y2="537"/><line x1="555.7" y1="534" x2="555.7" y2="537"/>
<line x1="429.3" y1="534" x2="432.3" y2="534"/><line x1="429.3" y1="510.8" x2="432.3" y2="510.8"/><line x1="429.3" y1="487.7" x2="432.3" y2="487.7"/><line x1="429.3" y1="464.5" x2="432.3" y2="464.5"/><line x1="429.3" y1="441.3" x2="432.3" y2="441.3"/><line x1="429.3" y1="418.2" x2="432.3" y2="418.2"/><line x1="429.3" y1="395" x2="432.3" y2="395"/>
</g>
<g font-size="7.8" fill="#222" text-anchor="middle">
<text x="444.3" y="544.5">−10</text><text x="460.2" y="544.5">−5</text><text x="476.1" y="544.5">0</text><text x="492" y="544.5">5</text><text x="507.9" y="544.5">10</text><text x="523.8" y="544.5">15</text><text x="539.7" y="544.5">20</text><text x="555.7" y="544.5">25</text>
</g>
<g font-size="7.8" fill="#222" text-anchor="end">
<text x="429" y="536.8">0</text><text x="429" y="513.6">1</text><text x="429" y="490.5">2</text><text x="429" y="467.3">3</text><text x="429" y="444.1">4</text><text x="429" y="421">5</text><text x="429" y="397.8">6</text>
</g>
<text x="495" y="560.5" font-size="11" fill="#222" text-anchor="middle">K (Å<tspan font-size="7" dy="-4">−1</tspan><tspan dy="4">)</tspan></text>
<text transform="translate(417.3,468) rotate(-90)" font-size="11" fill="#222" text-anchor="middle" textLength="88" lengthAdjust="spacingAndGlyphs">Radial Distance (Å)</text>
</svg>
</body></html>
